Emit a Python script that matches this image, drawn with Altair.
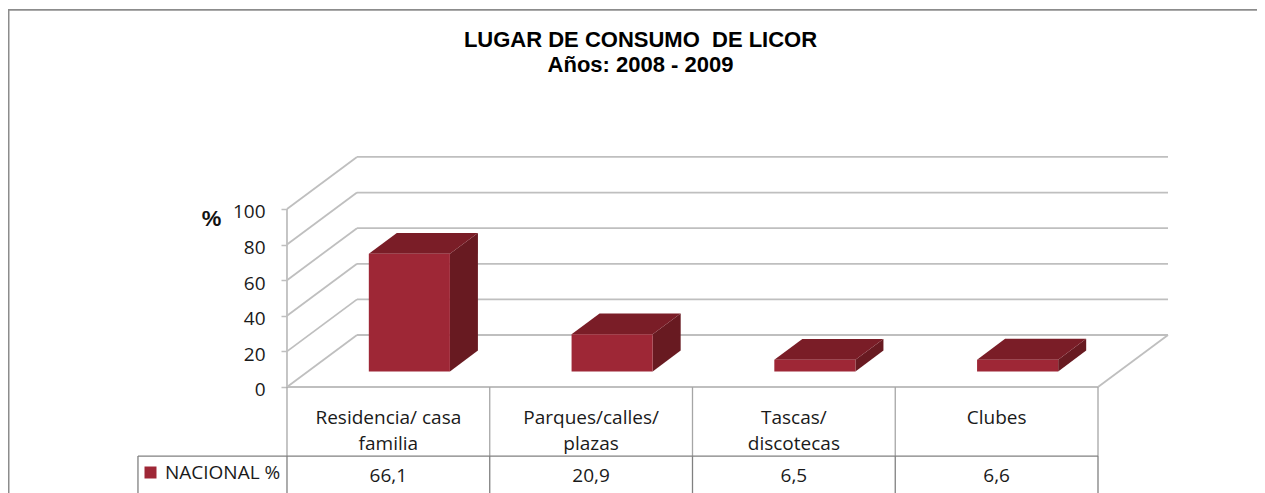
import altair as alt
import pandas as pd

categories = ["Residencia/ casa\nfamilia", "Parques/calles/\nplazas", "Tascas/\ndiscotecas", "Clubes"]
values = [66.1, 20.9, 6.5, 6.6]
value_labels = ["66,1", "20,9", "6,5", "6,6"]
series_name = "NACIONAL %"
y_ticks = [0, 20, 40, 60, 80, 100]
title_lines = ["LUGAR DE CONSUMO\u00a0 DE LICOR", "Años: 2008 - 2009"]

# Projection of the 3D box: depth 0..1 shifts right and up
DX = 70 / 202.75      # category units per unit of depth
DY = 52 / 1.78        # value units per unit of depth
D0, D1 = 0.3, 0.7     # depth occupied by the bars
B0, B1 = 0.3, 0.7     # share of the category occupied by the bars
ROW1 = -38.8          # bottom of the category row in value units
YMIN, YMAX = -59.55, 212.9
XMIN, XMAX = -1.376, 4.7842
LEGEND_X = -0.735     # left end of the table's legend cell
n = len(categories)

FRONT, TOP, SIDE = "#9E2736", "#7A1D27", "#681A21"
GRID, TABLE, TABLE2, FRAME = "#BFBFBF", "#A6A6A6", "#808080", "#8C8C8C"
FONT = "Open Sans"
FS = 19

xs = alt.Scale(domain=[XMIN, XMAX], nice=False, zero=False)
ys = alt.Scale(domain=[YMIN, YMAX], nice=False, zero=False)
X = lambda f="x": alt.X(f"{f}:Q", scale=xs, axis=None, title=None)
Y = lambda f="y", **k: alt.Y(f"{f}:Q", scale=ys, axis=None, title=None, **k)
x2 = alt.X2("x2:Q")
y2 = alt.Y2("y2:Q")


def segs(rows):
    out = []
    for i, (a, b, c, d) in enumerate(rows):
        out += [{"s": i, "x": a, "y": b}, {"s": i, "x": c, "y": d}]
    return pd.DataFrame(out)


def lines(rows, color, width):
    return alt.Chart(segs(rows)).mark_line(color=color, strokeWidth=width, clip=True).encode(
        x=X(), y=Y(), detail="s:N", order=alt.Order("x:Q"))


grid_rows = []
for t in y_ticks:
    grid_rows.append((0, t, DX, t + DY))
    grid_rows.append((DX, t + DY, n + DX, t + DY))
grid_rows += [(0, 0, n, 0), (n, 0, n + DX, DY), (0, 0, 0, 100)]
grid = lines(grid_rows, GRID, 1.8)

table1 = lines([(i, 0, i, ROW1) for i in range(n + 1)], TABLE, 1.3)
table2 = lines([(LEGEND_X, ROW1, n, ROW1)] +
               [(i, ROW1, i, YMIN) for i in range(n + 1)] +
               [(LEGEND_X, ROW1, LEGEND_X, YMIN)], TABLE2, 1.3)
frame = lines([(XMIN, 211.8, XMAX, 211.8), (XMIN + 0.003, 211.8, XMIN + 0.003, YMIN)], FRAME, 1.8)

top_rows, side_rows, front_rows = [], [], []
for i, v in enumerate(values):
    for d in (D0, D1):
        top_rows.append({"c": i, "y": v + d * DY, "x": i + B0 + d * DX, "x2": i + B1 + d * DX})
        side_rows.append({"c": i, "x": i + B1 + d * DX, "y": v + d * DY, "y2": d * DY})
    front_rows.append({"c": i, "s": series_name, "x": i + B0 + D0 * DX, "x2": i + B1 + D0 * DX,
                       "y": v + D0 * DY, "y2": D0 * DY})

top = alt.Chart(pd.DataFrame(top_rows)).mark_area(orient="horizontal", color=TOP).encode(
    y=Y(), x=X(), x2=x2, detail="c:N")
side = alt.Chart(pd.DataFrame(side_rows)).mark_area(orient="vertical", color=SIDE).encode(
    x=X(), y=Y(), y2=y2, detail="c:N")
front = alt.Chart(pd.DataFrame(front_rows)).mark_rect().encode(
    x=X(), x2=x2, y=Y(), y2=y2,
    color=alt.Color("s:N", scale=alt.Scale(domain=[series_name], range=[FRONT]),
                    legend=alt.Legend(title=None, orient="none", legendX=133, legendY=455, padding=0,
                                      symbolType="square", symbolSize=144, symbolStrokeWidth=0,
                                      labelFont=FONT, labelFontSize=FS, labelColor="#1A1A1A",
                                      labelOffset=5)))

axis_layer = alt.Chart(pd.DataFrame({"y": y_ticks})).mark_point(opacity=0).encode(
    x=alt.X("y:Q", scale=xs, axis=None, title=None),
    y=alt.Y("y:Q", scale=ys, title="%", axis=alt.Axis(
        values=y_ticks, offset=-279, domain=False, grid=False, tickSize=6, tickColor=GRID, tickWidth=1.5,
        labelFont=FONT, labelFontSize=FS, labelColor="#1A1A1A", labelPadding=16, labelOffset=3,
        titleFont="Liberation Sans", titleFontWeight="bold", titleFontSize=22, titleColor="#111111",
        titleAngle=0, titleAlign="center", titleBaseline="middle", titleX=-76, titleY=210)))

cat_text = alt.Chart(pd.DataFrame({"x": [i + 0.5 for i in range(n)], "y": [-12.6] * n, "t": categories})).mark_text(
    font=FONT, fontSize=FS, color="#1A1A1A", baseline="top", lineBreak="\n", lineHeight=26).encode(
    x=X(), y=Y(), text="t:N")
val_text = alt.Chart(pd.DataFrame({"x": [i + 0.5 for i in range(n)], "y": [-50.0] * n, "t": value_labels})).mark_text(
    font=FONT, fontSize=FS, color="#1A1A1A", baseline="middle").encode(
    x=X(), y=Y(), text="t:N")

chart = alt.layer(axis_layer, grid, table1, table2, frame, side, top, front, cat_text, val_text).properties(
    width=1249, height=485, padding=0,
    autosize=alt.AutoSizeParams(type="none"),
    title=alt.TitleParams(text=title_lines, font="Liberation Sans", fontWeight="bold", fontSize=22,
                          lineHeight=25, color="#000000", anchor="middle", dx=8,
                          baseline="top", offset=-69),
).resolve_axis(y="independent").configure_view(stroke=None)

chart.save("out.html", embed_options={"renderer": "svg", "actions": False})
